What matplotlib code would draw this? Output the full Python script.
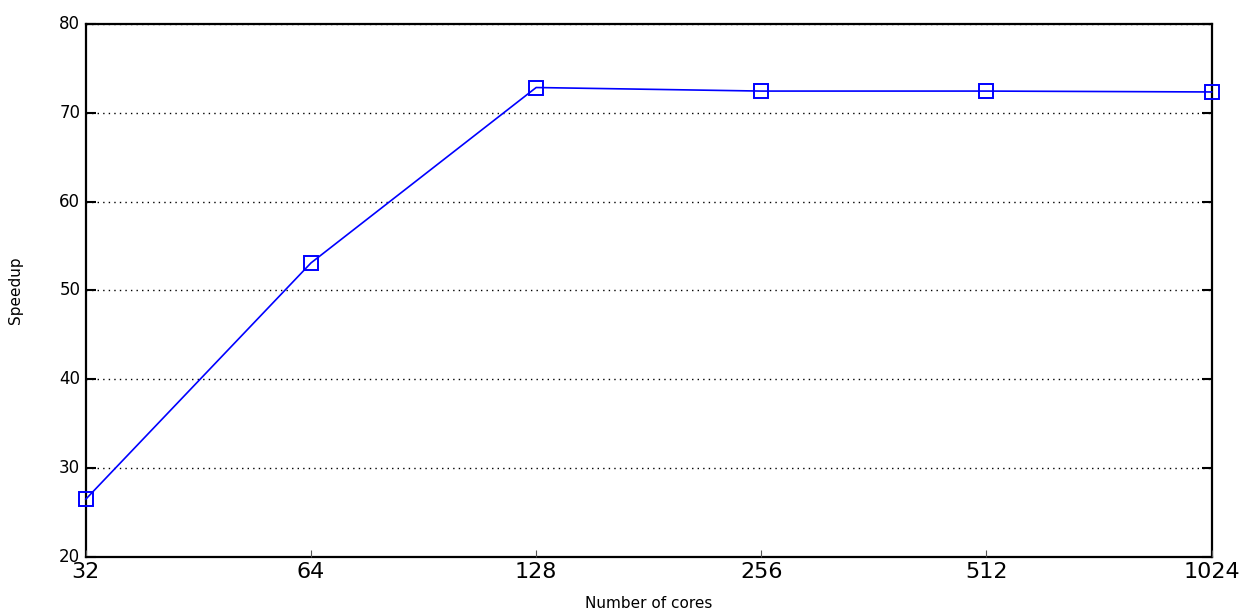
import matplotlib
matplotlib.use("Agg")
import matplotlib.pyplot as plt

cores = [32, 64, 128, 256, 512, 1024]
speedup = [26.5, 53.1, 72.85, 72.45, 72.45, 72.35]
core_labels = ["32", "64", "128", "256", "512", "1024"]

plt.style.use("classic")
fig, ax = plt.subplots(figsize=(12.44, 6.16), dpi=100)
fig.patch.set_facecolor("white")
fig.subplots_adjust(left=0.069, right=0.974, top=0.961, bottom=0.096)

ax.plot(cores, speedup, color="blue", linewidth=1.2, marker="s",
        markersize=10, markerfacecolor="none", markeredgecolor="blue",
        markeredgewidth=1.4, clip_on=False, zorder=5)

ax.set_xscale("log", base=2)
ax.set_xlim(32, 1024)
ax.set_xticks(cores)
ax.set_xticklabels(core_labels, fontsize=16)
ax.minorticks_off()
ax.set_ylim(20, 80)
ax.set_yticks(range(20, 81, 10))
ax.tick_params(axis="y", labelsize=12, direction="in", length=7, width=1.5,
               left=True, right=True)
ax.tick_params(axis="x", direction="in", length=5, width=0.8, color="#555555",
               top=False, bottom=True)
for sp in ax.spines.values():
    sp.set_linewidth(1.6)

ax.yaxis.grid(True, linestyle=":", color="black", linewidth=1)
ax.xaxis.grid(False)

ax.set_xlabel("Number of cores", fontsize=11, labelpad=10)
ax.set_ylabel("Speedup", fontsize=11, labelpad=26)

fig.savefig("out.png", dpi=100, facecolor="white")
